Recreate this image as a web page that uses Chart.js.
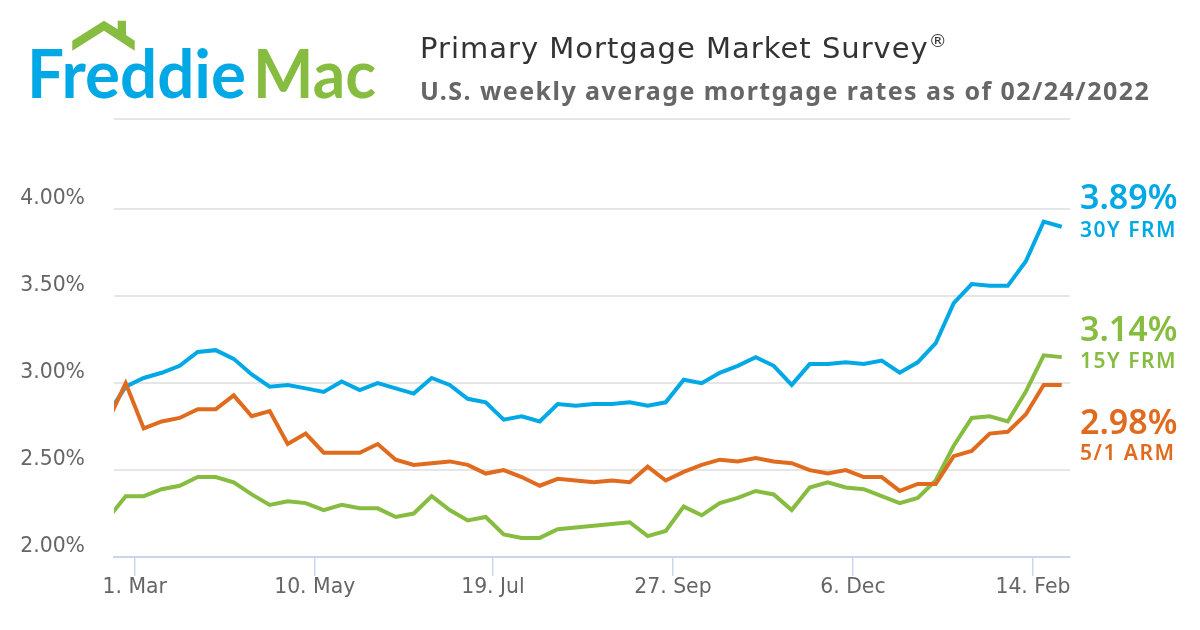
<!DOCTYPE html>
<html>
<head>
<meta charset="utf-8">
<title>Primary Mortgage Market Survey</title>
<script src="https://cdn.jsdelivr.net/npm/chart.js@4"></script>
<style>
  html, body { margin: 0; background: #fff; }
  #page { position: relative; width: 1200px; height: 630px; overflow: hidden; font-family: "DejaVu Sans", sans-serif; }
  #chart { position: absolute; left: 0; top: 0; }
  #logo { position: absolute; left: 0; top: 0; }
  .title { position: absolute; left: 420px; top: 31px; font-size: 29px; color: #333; letter-spacing: 1px; white-space: nowrap; }
  .title sup { font-size: 18px; line-height: 0; vertical-align: 11px; }
  .subtitle { position: absolute; left: 420px; top: 73px; font-family: "Noto Sans"; font-size: 25px; font-weight: 700; color: #666; letter-spacing: 1.45px; white-space: nowrap; }
  .rate { position: absolute; left: 1080px; font-family: "Noto Sans"; font-size: 34px; font-weight: 600; white-space: nowrap; }
  .name { position: absolute; left: 1080px; font-family: "Noto Sans"; font-size: 21px; font-weight: 600; letter-spacing: 1.5px; white-space: nowrap; }
</style>
</head>
<body>
<div id="page">
  <canvas id="chart" width="1200" height="630"></canvas>
  <svg id="logo" width="400" height="115">
    <polygon fill="#86bc40" points="72.3,50.7 72.3,40.7 104,20.7 117.7,29.3 117.7,20.7 126,20.7 126,35 134.7,40.7 134.7,50.7 104,30.7"/>
    <text x="27" y="98" font-family="Lato" font-weight="700" font-size="66" fill="#00a9e6" textLength="219" lengthAdjust="spacingAndGlyphs">Freddie</text>
    <text x="253" y="98" font-family="Lato" font-weight="700" font-size="66" fill="#86bc40" textLength="123" lengthAdjust="spacingAndGlyphs">Mac</text>
  </svg>
  <div class="title">Primary Mortgage Market Survey<sup>®</sup></div>
  <div class="subtitle">U.S. weekly average mortgage rates as of 02/24/2022</div>
  <div class="rate" style="top:173px;color:#00a9e6">3.89%</div>
  <div class="name" style="top:215px;color:#00a9e6">30Y FRM</div>
  <div class="rate" style="top:305px;color:#86bc40">3.14%</div>
  <div class="name" style="top:346px;color:#86bc40">15Y FRM</div>
  <div class="rate" style="top:398px;color:#e06b1e">2.98%</div>
  <div class="name" style="top:438px;color:#e06b1e">5/1 ARM</div>
</div>
<script>
const BLUE = '#00a9e6';
const GREEN = '#86bc40';
const ORANGE = '#e06b1e';
const TEXT = '#666666';

// Weekly readings, Feb 2021 to 24 Feb 2022
const frm30 = [2.82, 2.98, 3.03, 3.06, 3.10, 3.18, 3.19, 3.14, 3.05, 2.98, 2.99, 2.97, 2.95, 3.01, 2.96, 3.00, 2.97, 2.94,
  3.03, 2.99, 2.91, 2.89, 2.79, 2.81, 2.78, 2.88, 2.87, 2.88, 2.88, 2.89, 2.87, 2.89, 3.02, 3.00, 3.06, 3.10,
  3.15, 3.10, 2.99, 3.11, 3.11, 3.12, 3.11, 3.13, 3.06, 3.12, 3.23, 3.46, 3.57, 3.56, 3.56, 3.70, 3.93, 3.90];
const frm15 = [2.22, 2.35, 2.35, 2.39, 2.41, 2.46, 2.46, 2.43, 2.36, 2.30, 2.32, 2.31, 2.27, 2.30, 2.28, 2.28, 2.23, 2.25,
  2.35, 2.27, 2.21, 2.23, 2.13, 2.11, 2.11, 2.16, 2.17, 2.18, 2.19, 2.20, 2.12, 2.15, 2.29, 2.24, 2.31, 2.34,
  2.38, 2.36, 2.27, 2.40, 2.43, 2.40, 2.39, 2.35, 2.31, 2.34, 2.44, 2.64, 2.80, 2.81, 2.78, 2.95, 3.16, 3.15];
const arm51 = [2.78, 3.00, 2.74, 2.78, 2.80, 2.85, 2.85, 2.93, 2.81, 2.84, 2.65, 2.71, 2.60, 2.60, 2.60, 2.65, 2.56, 2.53,
  2.54, 2.55, 2.53, 2.48, 2.50, 2.46, 2.41, 2.45, 2.44, 2.43, 2.44, 2.43, 2.52, 2.44, 2.49, 2.53, 2.56, 2.55,
  2.57, 2.55, 2.54, 2.50, 2.48, 2.50, 2.46, 2.46, 2.38, 2.42, 2.42, 2.58, 2.61, 2.71, 2.72, 2.82, 2.99, 2.99];

const xTickWeeks = [1.5, 11.5, 21.4, 31.4, 41.4, 51.4];
const xTickLabels = ['1. Mar', '10. May', '19. Jul', '27. Sep', '6. Dec', '14. Feb'];
const yTickValues = [2, 2.5, 3, 3.5, 4, 4.52];
const yTickLabels = ['2.00%', '2.50%', '3.00%', '3.50%', '4.00%', ''];

function makeDataset(label, values, color, order) {
  return {
    label,
    data: values.map((y, x) => ({ x, y })),
    borderColor: color,
    borderWidth: 4,
    pointRadius: 0,
    tension: 0,
    order,
    borderJoinStyle: 'miter',
    clip: 0,
  };
}

new Chart(document.getElementById('chart'), {
  type: 'line',
  data: {
    datasets: [
      makeDataset('30Y FRM', frm30, BLUE, 3),
      makeDataset('15Y FRM', frm15, GREEN, 2),
      makeDataset('5/1 ARM', arm51, ORANGE, 1),
    ],
  },
  options: {
    responsive: false,
    animation: false,
    devicePixelRatio: 1,
    layout: { padding: { top: 119, right: 130, bottom: 0, left: 0 } },
    plugins: { legend: { display: false }, tooltip: { enabled: false } },
    scales: {
      x: {
        type: 'linear',
        min: 0.35,
        max: 53.46,
        afterBuildTicks: axis => { axis.ticks = xTickWeeks.map(value => ({ value })); },
        afterFit: axis => { axis.height = 73; },
        border: { color: '#ccd6eb', width: 2 },
        grid: { drawOnChartArea: false, color: '#ccd6eb', tickColor: '#ccd6eb', tickLength: 19, tickWidth: 1.5, lineWidth: 1.5 },
        ticks: {
          color: TEXT,
          font: { family: 'DejaVu Sans', size: 20.4 },
          padding: -1,
          autoSkip: false,
          maxRotation: 0,
          callback: (v, i) => xTickLabels[i],
        },
      },
      y: {
        min: 2,
        max: 4.52,
        afterBuildTicks: axis => { axis.ticks = yTickValues.map(value => ({ value })); },
        afterFit: axis => { axis.width = 114; },
        border: { display: false },
        grid: { color: '#e6e6e6', lineWidth: 2, drawTicks: false },
        ticks: {
          color: TEXT,
          font: { family: 'DejaVu Sans', size: 20.4, lineHeight: 1 },
          padding: 29,
          // blank second line lifts the label above its gridline
          callback: (v, i) => yTickLabels[i] ? [yTickLabels[i], ''] : '',
        },
      },
    },
  },
});
</script>
</body>
</html>
